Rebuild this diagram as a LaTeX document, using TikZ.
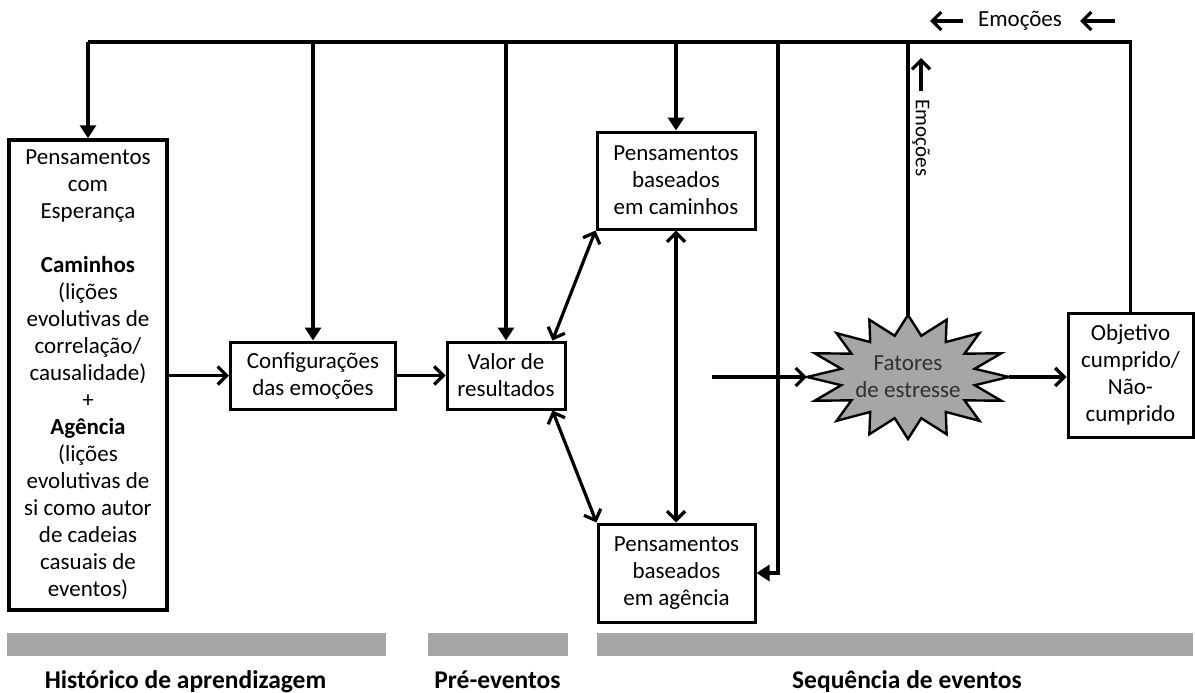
\documentclass[tikz,border=0pt]{standalone}
\usepackage{fontspec}
\setmainfont{Carlito}
\usetikzlibrary{arrows.meta}
\definecolor{bargray}{HTML}{A6A6A6}
\definecolor{startext}{HTML}{303030}
\begin{document}
\begin{tikzpicture}[x=1pt,y=-1pt,
  box/.style={draw, line width=3pt, align=center, inner sep=0pt, font=\fontsize{23}{27}\selectfont},
  txt/.style={inner sep=0pt, font=\fontsize{23}{27}\selectfont},
  wire/.style={line width=3.2pt},
  flow/.style={line width=3.2pt, -{Straight Barb[length=9pt,width=18pt]}},
  both/.style={line width=3.2pt, {Straight Barb[length=9pt,width=18pt]}-{Straight Barb[length=9pt,width=18pt]}},
  fbarrow/.style={line width=3.2pt, -{Triangle[length=13pt,width=16pt]}},
  lbl/.style={inner sep=0pt, anchor=base, font=\fontsize{25.5}{30}\selectfont\bfseries}
]
\useasboundingbox (0,0) rectangle (1195,693);

% boxes
\node[box, line width=3.5pt, minimum width=158, minimum height=470] (left) at (88,375)
  {Pensamentos\\com\\Esperança\\[27pt]\textbf{Caminhos}\\(lições\\evolutivas de\\correlação/\\causalidade)\\+\\\textbf{Agência}\\(lições\\evolutivas de\\si como autor\\de cadeias\\casuais de\\eventos)};
\node[box, minimum width=165, minimum height=67] (config) at (313,375.5) {Configurações\\das emoções};
\node[box, minimum width=118, minimum height=67] (valor) at (506,375.5) {Valor de\\resultados};
\node[box, minimum width=158, minimum height=97] (cam) at (676,180.5) {Pensamentos\\baseados\\em caminhos};
\node[box, minimum width=157, minimum height=98] (ag) at (676.5,573) {Pensamentos\\baseados\\em agência};
\node[box, minimum width=125, minimum height=124] (obj) at (1130.5,375) {Objetivo\\cumprido/\\Não-\\cumprido};

% starburst
\filldraw[fill=bargray, line width=2.4pt, line join=miter]
  (1009,377) \foreach \i in {1,...,31}{ -- ({908+(84.5+16.5*cos(180*\i))*cos(11.25*\i)}, {377+(52+10*cos(180*\i))*sin(11.25*\i)}) } -- cycle;
\node[txt, align=center, text=startext, minimum width=202, minimum height=124] (star) at (908,377) {Fatores\\de estresse};

% feedback loop
\coordinate (topy) at (0,42);
\coordinate (tr) at (obj.north |- topy);
\coordinate (tl) at (left.north |- topy);
\coordinate (t5) at (778,42);
\draw[wire, line join=miter] (obj.north) -- (tr) -- (tl);
\draw[fbarrow, line join=miter] (tl) -- (left.north);
\draw[fbarrow] (config.north |- topy) -- (config.north);
\draw[fbarrow] (valor.north |- topy) -- (valor.north);
\draw[fbarrow] (cam.north |- topy) -- (cam.north);
\coordinate (agr) at (t5 |- ag.east);
\draw[fbarrow, line join=miter] (t5) -- (agr) -- (ag.east);
\draw[wire] (star.north) -- (star.north |- topy);

% main flow
\draw[flow] (left.east |- config.west) -- (config.west);
\draw[flow] (config.east) -- (valor.west);
\coordinate (sx) at (712,377);
\draw[flow] (sx) -- (star.west);
\draw[flow] (star.east) -- (obj.west |- star.east);

% double arrows
\draw[both] (valor.37) -- (cam.south west);
\draw[both] (valor.-37) -- (ag.north west);
\draw[both] (cam.south) -- (cam.south |- ag.north);

% emotion labels
\node[txt] (emo) at (1020,21) {Emoções};
\coordinate (e1a) at (963,21); \coordinate (e1b) at (930,21);
\coordinate (e2a) at (1115,21); \coordinate (e2b) at (1080,21);
\draw[flow] (e1a) -- (e1b);
\draw[flow] (e2a) -- (e2b);
\node[txt, rotate=-90, font=\fontsize{21}{25}\selectfont] (emo2) at (921,138) {Emoções};
\coordinate (e3a) at (921,91); \coordinate (e3b) at (921,58);
\draw[flow] (e3a) -- (e3b);

% bottom bars and labels
\fill[bargray] (7,633) rectangle (386,656);
\fill[bargray] (428,633) rectangle (568,656);
\fill[bargray] (597,633) rectangle (1193,656);
\node[lbl] (l1) at (185.5,688) {Histórico de aprendizagem};
\node[lbl] (l2) at (497.5,688) {Pré-eventos};
\node[lbl] (l3) at (907,688) {Sequência de eventos};
\end{tikzpicture}
\end{document}
